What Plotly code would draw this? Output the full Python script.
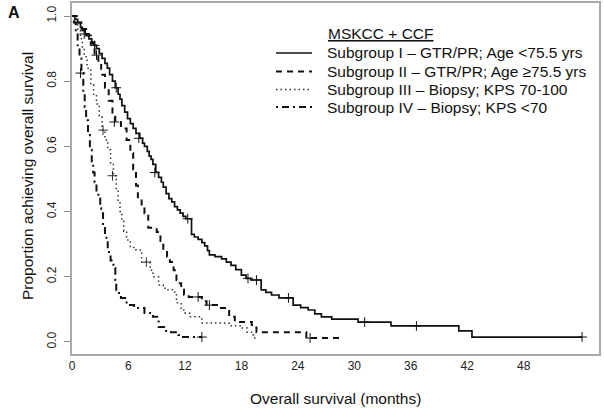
import plotly.graph_objects as go

# Kaplan-Meier step points (months, proportion surviving)
t_sg1 = [0, 0.3, 0.6, 0.9, 1.1, 1.4, 1.8, 2.1, 2.4, 2.6, 2.9, 3.2, 3.5, 3.75, 4.0, 4.3,
         4.6, 4.9, 5.1, 5.3, 5.6, 5.9, 6.2, 6.5, 6.8, 7.2, 7.5, 7.7, 8.0, 8.2, 8.4, 8.6,
         8.9, 9.2, 9.5, 9.7, 10.0, 10.3, 10.6, 10.9, 11.2, 11.5, 11.8, 12.1, 12.7, 13.0,
         13.4, 13.8, 14.1, 14.4, 14.6, 15.2, 15.9, 16.4, 16.9, 17.4, 18.0, 18.5, 19.0,
         20.1, 20.6, 21.2, 22.0, 23.5, 24.3, 25.1, 25.8, 26.5, 27.6, 30.4, 33.9, 41.1, 42.5]
s_sg1 = [1.0, 0.99, 0.98, 0.965, 0.955, 0.945, 0.93, 0.92, 0.91, 0.90, 0.885, 0.87, 0.855,
         0.84, 0.82, 0.80, 0.78, 0.76, 0.745, 0.725, 0.705, 0.685, 0.67, 0.655, 0.64, 0.625,
         0.61, 0.60, 0.585, 0.57, 0.56, 0.545, 0.52, 0.505, 0.49, 0.475, 0.455, 0.44, 0.43,
         0.415, 0.405, 0.395, 0.385, 0.378, 0.33, 0.322, 0.315, 0.305, 0.295, 0.28, 0.267,
         0.262, 0.255, 0.245, 0.235, 0.222, 0.205, 0.195, 0.19, 0.16, 0.152, 0.144, 0.135,
         0.113, 0.105, 0.098, 0.086, 0.077, 0.07, 0.061, 0.049, 0.034, 0.015]
end_sg1 = 54.2
cens_t_sg1 = [1.3, 2.4, 4.7, 7.1, 8.8, 12.3, 18.7, 19.6, 23.0, 31.1, 36.6, 54.2]
cens_s_sg1 = [0.945, 0.91, 0.78, 0.625, 0.52, 0.378, 0.195, 0.19, 0.135, 0.061, 0.049, 0.015]

t_sg2 = [0, 0.5, 1.0, 1.5, 2.0, 2.4, 2.8, 3.1, 3.5, 3.9, 4.3, 4.6, 5.2, 5.8, 6.2, 6.5, 6.8,
         7.0, 7.4, 7.7, 8.1, 9.0, 9.4, 9.7, 10.1, 10.4, 10.8, 11.1, 11.3, 11.6, 11.9, 12.4,
         13.8, 14.3, 15.6, 16.7, 17.3, 19.1, 19.6, 24.9]
s_sg2 = [1.0, 0.98, 0.96, 0.94, 0.915, 0.88, 0.85, 0.82, 0.78, 0.74, 0.70, 0.675, 0.655,
         0.62, 0.58, 0.53, 0.48, 0.44, 0.415, 0.395, 0.35, 0.337, 0.31, 0.282, 0.262, 0.245,
         0.22, 0.19, 0.18, 0.16, 0.145, 0.138, 0.125, 0.113, 0.104, 0.077, 0.061, 0.052,
         0.03, 0.012]
end_sg2 = 28.9
cens_t_sg2 = [2.6, 4.5, 13.4, 14.6, 25.3]
cens_s_sg2 = [0.88, 0.675, 0.138, 0.113, 0.012]

t_sg3 = [0, 0.3, 0.6, 0.9, 1.1, 1.3, 1.6, 2.0, 2.3, 2.6, 2.9, 3.2, 3.5, 3.8, 4.1, 4.4, 4.7,
         4.9, 5.1, 5.3, 5.5, 5.8, 6.2, 6.8, 7.4, 8.3, 8.6, 9.2, 9.7, 10.2, 10.9, 11.1, 11.6,
         12.0, 12.5, 13.8, 16.7, 18.0, 18.6, 19.1, 19.3]
s_sg3 = [1.0, 0.98, 0.955, 0.93, 0.90, 0.875, 0.84, 0.79, 0.76, 0.73, 0.69, 0.65, 0.62,
         0.59, 0.55, 0.51, 0.466, 0.435, 0.40, 0.37, 0.34, 0.313, 0.29, 0.282, 0.245, 0.22,
         0.20, 0.175, 0.165, 0.16, 0.153, 0.12, 0.098, 0.089, 0.077, 0.058, 0.05, 0.043,
         0.03, 0.021, 0.012]
end_sg3 = 19.5
cens_t_sg3 = [3.3, 4.3, 7.9]
cens_s_sg3 = [0.65, 0.51, 0.245]

t_sg4 = [0, 0.2, 0.4, 0.6, 0.8, 1.0, 1.2, 1.35, 1.5, 1.7, 1.9, 2.1, 2.25, 2.4, 2.6, 2.8,
         3.0, 3.1, 3.3, 3.5, 3.8, 4.1, 4.4, 4.6, 4.7, 5.0, 5.2, 5.8, 6.6, 7.7, 8.6, 9.2,
         10.0, 11.3, 11.8]
s_sg4 = [1.0, 0.98, 0.95, 0.91, 0.87, 0.825, 0.76, 0.72, 0.68, 0.635, 0.59, 0.55, 0.52,
         0.49, 0.46, 0.44, 0.41, 0.395, 0.355, 0.32, 0.276, 0.25, 0.227, 0.19, 0.16, 0.145,
         0.135, 0.113, 0.104, 0.089, 0.077, 0.046, 0.03, 0.021, 0.015]
end_sg4 = 13.8
cens_t_sg4 = [0.9, 13.8]
cens_s_sg4 = [0.825, 0.015]

names = ['Subgroup I \u2013 GTR/PR; Age <75.5 yrs',
         'Subgroup II \u2013 GTR/PR; Age \u226575.5 yrs',
         'Subgroup III \u2013 Biopsy; KPS 70-100',
         'Subgroup IV \u2013 Biopsy; KPS <70']
legend_title = 'MSKCC + CCF'
x_ticks = [0, 6, 12, 18, 24, 30, 36, 42, 48]
y_ticks = [0.0, 0.2, 0.4, 0.6, 0.8, 1.0]

line_styles = [
    dict(color='#111', width=1.7, dash='solid'),
    dict(color='#111', width=2, dash='6px,5px'),
    dict(color='#333', width=1.5, dash='1.5px,3px'),
    dict(color='#111', width=2, dash='2px,4px,7px,4px'),
]
groups = [
    (t_sg1, s_sg1, end_sg1, cens_t_sg1, cens_s_sg1),
    (t_sg2, s_sg2, end_sg2, cens_t_sg2, cens_s_sg2),
    (t_sg3, s_sg3, end_sg3, cens_t_sg3, cens_s_sg3),
    (t_sg4, s_sg4, end_sg4, cens_t_sg4, cens_s_sg4),
]

fig = go.Figure()
for name, (t, s, t_end, ct, cs), line in zip(names, groups, line_styles):
    fig.add_trace(go.Scatter(x=t + [t_end], y=s + [s[-1]], mode='lines', line=line,
                             line_shape='hv', name=name, showlegend=False))
    fig.add_trace(go.Scatter(x=ct, y=cs, mode='markers', showlegend=False,
                             marker=dict(symbol='cross-thin', size=7,
                                         line=dict(color=line['color'], width=1))))

font = 'Liberation Sans, Arial, sans-serif'
W, H = 604, 409
ml, mr, mt, mb = 72, 5, 3, 55
pw, ph = W - ml - mr, H - mt - mb


def px(x):  # pixel -> paper x
    return (x - ml) / pw


def py(y):  # pixel -> paper y
    return (H - mb - y) / ph


fig.update_layout(
    width=W, height=H,
    margin=dict(l=ml, r=mr, t=mt, b=mb),
    paper_bgcolor='white', plot_bgcolor='white',
    font=dict(family=font, color='#111'),
    showlegend=False,
)
fig.update_xaxes(range=[0, 56], tickvals=x_ticks, showgrid=False, zeroline=False,
                 showline=True, mirror=True, linecolor='#aaa', linewidth=2,
                 ticks='', tickfont=dict(size=12, color='#222'), automargin=False)
fig.update_yaxes(range=[-0.037, 1.04], tickvals=y_ticks, tickformat='.1f', showgrid=False,
                 zeroline=False, showline=True, mirror=True, linecolor='#aaa', linewidth=2,
                 ticks='outside', ticklen=6, tickcolor='#888', tickangle=-90,
                 ticklabelstandoff=3, tickfont=dict(size=12, color='#222'), automargin=False)

# axis titles
fig.add_annotation(text='Overall survival (months)', xref='paper', yref='paper',
                   x=0.5, y=py(398), xanchor='center', yanchor='middle', showarrow=False,
                   font=dict(size=15.5, family=font, color='#111'))
fig.add_annotation(text='Proportion achieving overall survival', xref='paper', yref='paper',
                   x=px(28), y=py(176), xanchor='center', yanchor='middle', showarrow=False,
                   textangle=-90, font=dict(size=15.5, family=font, color='#111'))

# legend box
fig.add_annotation(text='<u>' + legend_title + '</u>', xref='paper', yref='paper',
                   x=px(326), y=py(33), xanchor='left', yanchor='middle', showarrow=False,
                   font=dict(size=15.5, family=font, color='#111'))
row_y = [53, 71.5, 89.5, 107]
for name, line, ry in zip(names, line_styles, row_y):
    fig.add_shape(type='line', xref='paper', yref='paper', x0=px(276), x1=px(312),
                  y0=py(ry), y1=py(ry), line=line)
    fig.add_annotation(text=name, xref='paper', yref='paper', x=px(325), y=py(ry),
                       xanchor='left', yanchor='middle', showarrow=False,
                       font=dict(size=15.5, family=font, color='#111'))

fig.add_annotation(text='<b>A</b>', xref='paper', yref='paper', x=px(6), y=py(13),
                   xanchor='left', yanchor='middle', showarrow=False,
                   font=dict(size=16, family=font, color='#111'))

# the page's default body margin would shift the 604x409 figure inside the window
fig.write_html('out.html', config={'displayModeBar': False},
               post_script="document.body.style.margin='0';")
